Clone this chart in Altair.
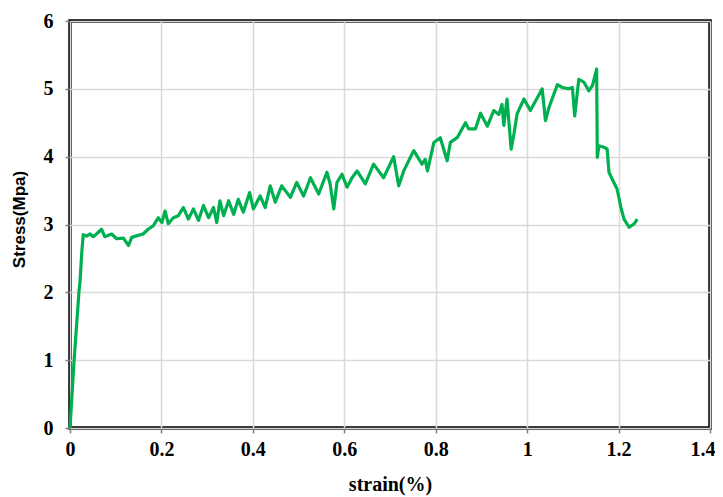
import altair as alt
import pandas as pd

strain = [
    0.0, 0.009, 0.0195, 0.022, 0.026, 0.029,
    0.036, 0.044, 0.051, 0.058, 0.069, 0.076, 0.091, 0.102, 0.117, 0.128,
    0.135, 0.149, 0.160, 0.171, 0.182, 0.193, 0.201, 0.208, 0.215, 0.226,
    0.237, 0.248, 0.259, 0.270, 0.281, 0.292, 0.303, 0.314, 0.321, 0.328,
    0.336, 0.347, 0.358, 0.368, 0.379, 0.393, 0.401, 0.416, 0.427, 0.438,
    0.449, 0.463, 0.482, 0.496, 0.511, 0.526, 0.544, 0.562, 0.569, 0.577,
    0.584, 0.595, 0.606, 0.617, 0.628, 0.646, 0.664, 0.686, 0.708, 0.719,
    0.730, 0.752, 0.770, 0.777, 0.782, 0.796, 0.810, 0.825, 0.832, 0.847,
    0.865, 0.872, 0.887, 0.898, 0.913, 0.927, 0.938, 0.945, 0.949, 0.956,
    0.965, 0.971, 0.978, 0.993, 1.007, 1.033, 1.040, 1.048, 1.066, 1.077,
    1.091, 1.099, 1.104, 1.113, 1.124, 1.135, 1.143, 1.152, 1.1535, 1.157,
    1.168, 1.175, 1.179, 1.186, 1.197, 1.205, 1.212, 1.223, 1.234, 1.241,
]
stress = [
    0.0, 1.0, 2.0, 2.17, 2.61, 2.85,
    2.83, 2.86, 2.82, 2.86, 2.93, 2.82, 2.86, 2.79, 2.80, 2.69,
    2.81, 2.84, 2.86, 2.93, 2.98, 3.10, 3.03, 3.20, 3.01, 3.10,
    3.13, 3.25, 3.08, 3.23, 3.06, 3.28, 3.10, 3.25, 3.03, 3.35,
    3.13, 3.35, 3.15, 3.37, 3.18, 3.47, 3.23, 3.42, 3.25, 3.57,
    3.33, 3.57, 3.40, 3.62, 3.42, 3.69, 3.45, 3.77, 3.60, 3.23,
    3.62, 3.74, 3.55, 3.69, 3.79, 3.60, 3.89, 3.69, 4.00, 3.57,
    3.79, 4.09, 3.89, 3.96, 3.79, 4.21, 4.28, 3.94, 4.21, 4.28,
    4.50, 4.41, 4.41, 4.64, 4.45, 4.68, 4.62, 4.77, 4.46, 4.85,
    4.11, 4.33, 4.63, 4.85, 4.68, 5.00, 4.53, 4.73, 5.06, 5.02,
    5.00, 5.02, 4.60, 5.14, 5.10, 4.97, 5.05, 5.29, 3.99, 4.16,
    4.14, 4.11, 3.77, 3.67, 3.52, 3.25, 3.08, 2.96, 3.01, 3.08,
]

x_ticks = [0, 0.2, 0.4, 0.6, 0.8, 1.0, 1.2, 1.4]
y_ticks = [0, 1, 2, 3, 4, 5, 6]

df = pd.DataFrame({"strain": strain, "stress": stress, "order": list(range(len(strain)))})

chart = alt.Chart(df).mark_line(color="#00B050", strokeWidth=3.2, strokeJoin="round").encode(
    x=alt.X("strain:Q",
            scale=alt.Scale(domain=[0, 1.4], nice=False),
            axis=alt.Axis(values=x_ticks, title="strain(%)", labelExpr="format(datum.value, '~g')",
                          labelFont="Liberation Serif", labelFontWeight="bold", labelFontSize=20,
                          labelColor="black", labelPadding=6, labelFlush=False,
                          labelAlign={"condition": {"test": "datum.value >= 1.39", "value": "right"},
                                      "value": "center"},
                          labelOffset={"condition": {"test": "datum.value >= 1.39", "value": 5},
                                       "value": 0},
                          titleFont="Liberation Serif", titleFontWeight="bold", titleFontSize=20,
                          titleColor="black", titleY=46, titleBaseline="top",
                          tickColor="#808080", tickSize=5, tickWidth=1.5, domain=False,
                          gridColor="#d9d9d9", gridWidth=1.5)),
    y=alt.Y("stress:Q",
            scale=alt.Scale(domain=[0, 6], nice=False),
            axis=alt.Axis(values=y_ticks, title="Stress(Mpa)", format="d",
                          labelFont="Liberation Serif", labelFontWeight="bold", labelFontSize=20,
                          labelColor="black", labelPadding=12, labelFlush=False,
                          titleFont="Liberation Sans", titleFontWeight="bold", titleFontSize=17,
                          titleColor="black", titleX=-51, titleY=198, titleAngle=270,
                          titleAlign="center", titleBaseline="middle",
                          tickColor="#808080", tickSize=5, tickWidth=1.5, domain=False,
                          gridColor="#d9d9d9", gridWidth=1.5)),
    order="order:Q",
).properties(
    width=640, height=407,
    autosize=alt.AutoSizeParams(type="none"),
    padding={"left": 62, "top": 13, "right": 5, "bottom": 70},
).configure_view(stroke="black", strokeWidth=3.5)

chart.save("out.html", embed_options={"renderer": "svg", "actions": False})
